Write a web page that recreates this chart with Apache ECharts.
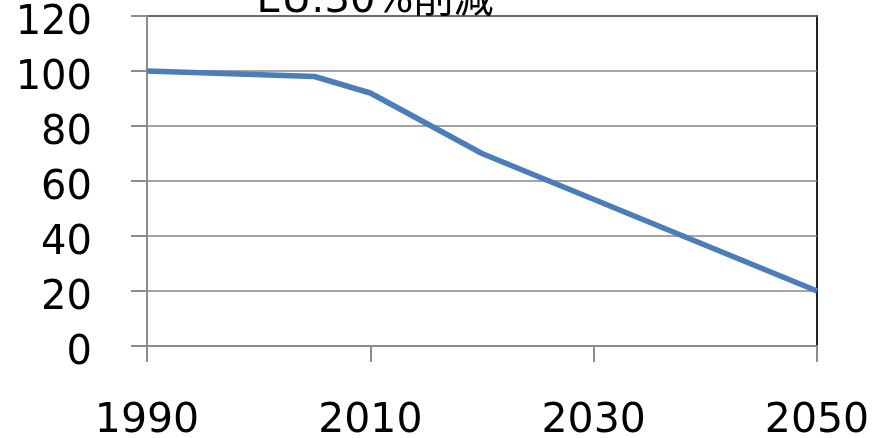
<!DOCTYPE html>
<html>
<head>
<meta charset="utf-8">
<script src="https://cdn.jsdelivr.net/npm/echarts@6/dist/echarts.min.js"></script>
<style>
  html, body { margin: 0; padding: 0; background: #ffffff; }
  #chart { width: 875px; height: 438px; }
</style>
</head>
<body>
<div id="chart"></div>
<script>
// Emission pathway, index 1990 = 100
const titleText = 'EU:30%削減';
const years = [1990, 2005, 2010, 2020, 2050];
const values = [100, 98, 92, 70, 20];
const xTickLabels = [1990, 2010, 2030, 2050];
const yTickLabels = [0, 20, 40, 60, 80, 100, 120];

const FONT = '"DejaVu Sans", "Noto Sans CJK JP", sans-serif';

const chart = echarts.init(document.getElementById('chart'), null, { renderer: 'canvas' });

chart.setOption({
  backgroundColor: '#ffffff',
  animation: false,
  title: {
    text: titleText,
    left: 375,
    textAlign: 'center',
    top: -18,
    padding: 0,
    textStyle: { fontFamily: FONT, fontSize: 40, fontWeight: 'normal', color: '#000000' }
  },
  grid: {
    left: 147,
    right: 58,
    top: 16,
    bottom: 92,
    containLabel: false,
    outerBoundsMode: 'none',
    show: true,
    borderColor: '#222222',
    borderWidth: 2,
    backgroundColor: 'transparent'
  },
  xAxis: {
    type: 'value',
    min: xTickLabels[0],
    max: xTickLabels[xTickLabels.length - 1],
    axisLine: { show: true, lineStyle: { color: '#8c8c8c', width: 2 } },
    axisTick: {
      show: true,
      length: 16,
      customValues: xTickLabels,
      lineStyle: { color: '#8c8c8c', width: 2 }
    },
    axisLabel: {
      customValues: xTickLabels,
      margin: 55,
      fontFamily: FONT,
      fontSize: 41,
      color: '#000000',
      formatter: v => String(v)
    },
    splitLine: { show: false }
  },
  yAxis: {
    type: 'value',
    min: yTickLabels[0],
    max: yTickLabels[yTickLabels.length - 1],
    interval: 20,
    axisLine: { show: true, lineStyle: { color: '#8c8c8c', width: 2 } },
    axisTick: { show: true, length: 16, lineStyle: { color: '#8c8c8c', width: 2 } },
    axisLabel: {
      margin: 55,
      verticalAlign: 'top',
      lineHeight: 16,
      fontFamily: FONT,
      fontSize: 40,
      color: '#000000'
    },
    splitLine: { show: true, lineStyle: { color: '#858585', width: 1.5 } }
  },
  series: [{
    type: 'line',
    data: years.map((y, i) => [y, values[i]]),
    symbol: 'none',
    smooth: false,
    lineStyle: { color: '#4a7ebb', width: 5.5, join: 'round' },
    z: 3
  }]
});
</script>
</body>
</html>
